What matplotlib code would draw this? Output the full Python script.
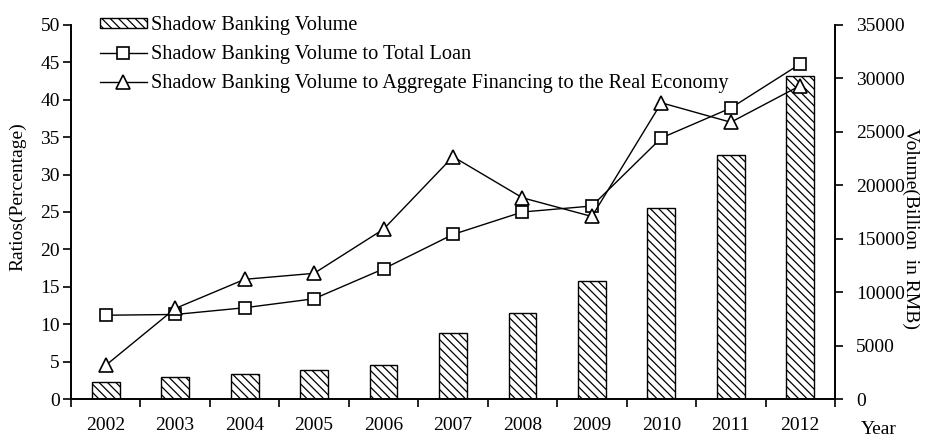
import numpy as np
import matplotlib
matplotlib.use('Agg')
import matplotlib.pyplot as plt
from matplotlib.patches import Patch
from matplotlib.lines import Line2D

plt.rcParams['font.family'] = 'Liberation Serif'
plt.rcParams['hatch.linewidth'] = 0.9

# Data
years = ['2002', '2003', '2004', '2005', '2006', '2007', '2008', '2009', '2010', '2011', '2012']
volume = [1590, 2030, 2310, 2740, 3210, 6210, 8020, 11040, 17850, 22830, 30190]
ratio_loan = [11.2, 11.3, 12.2, 13.4, 17.4, 22.0, 25.0, 25.8, 34.9, 38.9, 44.8]
ratio_afre = [4.5, 12.1, 16.0, 16.8, 22.7, 32.4, 26.9, 24.4, 39.6, 37.0, 41.9]

x = np.arange(len(years))

fig = plt.figure(figsize=(9.27, 4.37), dpi=100)
ax = fig.add_axes([71 / 927, 1 - 399 / 437, 764 / 927, 374 / 437])
ax2 = ax.twinx()

# bars on the volume (right) axis, drawn behind the lines
ax2.bar(x, volume, width=0.4, color='white', edgecolor='black', linewidth=1.0,
        hatch='\\\\\\\\', zorder=1)
ax2.set_ylim(0, 35000)
ax2.set_yticks(np.arange(0, 35001, 5000))

ax.set_zorder(ax2.get_zorder() + 1)
ax.patch.set_visible(False)

ax.plot(x, ratio_loan, '-', color='black', linewidth=1.0, marker='s', markersize=9,
        markerfacecolor='white', markeredgecolor='black', markeredgewidth=1.2)
ax.plot(x, ratio_afre, '-', color='black', linewidth=1.0, marker='^', markersize=10,
        markerfacecolor='white', markeredgecolor='black', markeredgewidth=1.2)

ax.set_xlim(-0.5, len(years) - 0.5)
ax.set_ylim(0, 50)
ax.set_yticks(np.arange(0, 51, 5))
ax.set_xticks(x)
ax.set_xticklabels(years)
ax.set_xticks(np.arange(-0.5, len(years), 1.0), minor=True)
ax.tick_params(axis='x', which='major', length=0, labelsize=14, pad=13)
ax.tick_params(axis='x', which='minor', length=6, width=1.2, direction='out')
ax.tick_params(axis='y', length=6, width=1.2, direction='out', labelsize=14, pad=2)
ax2.tick_params(axis='y', length=6, width=1.2, direction='out', labelsize=14, pad=9)

for a in (ax, ax2):
    a.spines['top'].set_visible(False)
    for s in ('left', 'right', 'bottom'):
        a.spines[s].set_linewidth(1.2)

fig.text(18 / 927, 1 - 197 / 437, 'Ratios(Percentage)', rotation=90,
         fontsize=14, ha='center', va='center')
fig.text(911 / 927, 1 - 228 / 437, 'Volume(Billion  in RMB)', rotation=270,
         fontsize=14, ha='center', va='center')
fig.text(879 / 927, 1 - 430 / 437, 'Year', fontsize=14, ha='center', va='center')

handles = [
    Patch(facecolor='white', edgecolor='black', hatch='\\\\\\\\', linewidth=1.0),
    Line2D([], [], color='black', linewidth=1.0, marker='s', markersize=9,
           markerfacecolor='white', markeredgecolor='black', markeredgewidth=1.2),
    Line2D([], [], color='black', linewidth=1.0, marker='^', markersize=10,
           markerfacecolor='white', markeredgecolor='black', markeredgewidth=1.2),
]
labels = ['Shadow Banking Volume',
          'Shadow Banking Volume to Total Loan',
          'Shadow Banking Volume to Aggregate Financing to the Real Economy']
fig.legend(handles, labels, loc='upper left', bbox_to_anchor=(100 / 927, 1 - 16 / 437),
           frameon=False, fontsize=14.6, handlelength=2.3, handleheight=0.4,
           handletextpad=0.2, labelspacing=0.5, borderpad=0, borderaxespad=0)

fig.savefig('out.png', dpi=100)
